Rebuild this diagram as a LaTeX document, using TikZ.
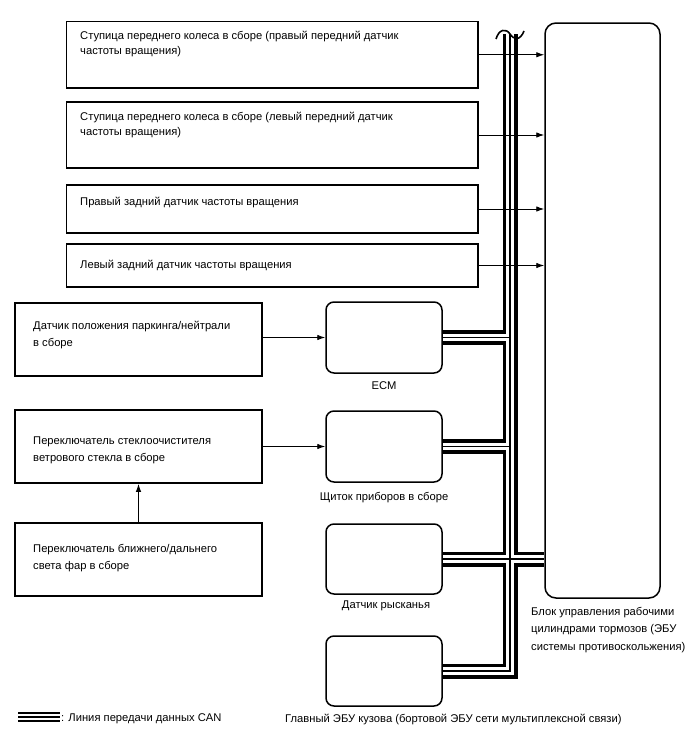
\documentclass[tikz,border=0pt]{standalone}
\usepackage{fontspec}
\setmainfont{Liberation Sans}
\usetikzlibrary{arrows.meta,backgrounds}
\begin{document}
\begin{tikzpicture}[x=1pt,y=-1pt,
  txt/.style={font=\fontsize{11.2}{15}\selectfont, inner sep=0pt, align=left},
  txtl/.style={font=\fontsize{11.2}{16.5}\selectfont, inner sep=0pt, align=left},
  txta/.style={font=\fontsize{11.2}{17.5}\selectfont, inner sep=0pt, align=left},
  sqbox/.style={draw, line width=1.8pt, inner sep=0pt},
  rbox/.style={draw, line width=1.5pt, rounded corners=8pt, inner sep=0pt},
  arr/.style={line width=0.9pt, -{Latex[length=8pt,width=5.5pt]}},
  canblack/.style={line width=15pt, line join=miter},
  canwhite/.style={white, line width=7.5pt, line join=miter},
  canthin/.style={line width=1.4pt, line join=miter}]
\useasboundingbox (0,0) rectangle (688,755);

% left/top boxes
\node[sqbox, minimum width=411.5pt, minimum height=66.5pt] (b1) at (272.25,54.75) {};
\node[sqbox, minimum width=411.5pt, minimum height=66pt] (b2) at (272.25,135) {};
\node[sqbox, minimum width=411.5pt, minimum height=48pt] (b3) at (272.25,209) {};
\node[sqbox, minimum width=411.5pt, minimum height=43pt] (b4) at (272.25,265.5) {};
\node[sqbox, minimum width=247pt, minimum height=73pt] (park) at (138.5,339.5) {};
\node[sqbox, minimum width=247pt, minimum height=73pt] (wiper) at (138.5,446.5) {};
\node[sqbox, minimum width=247pt, minimum height=73pt] (head) at (138.5,559.5) {};

% rounded boxes
\node[rbox, minimum width=116pt, minimum height=71pt] (ecm) at (384,337.5) {};
\node[rbox, minimum width=116pt, minimum height=71pt] (meter) at (384,446.5) {};
\node[rbox, minimum width=116pt, minimum height=70pt] (yaw) at (384,559) {};
\node[rbox, minimum width=116pt, minimum height=70pt] (body) at (384,671) {};
\node[rbox, rounded corners=11pt, minimum width=115pt, minimum height=575pt] (abs) at (602.5,310.5) {};

% texts in boxes (anchor = baseline of last line)
\node[txt, anchor=base west] (t1) at (80,54) {Ступица переднего колеса в сборе (правый передний датчик\\частоты вращения)};
\node[txt, anchor=base west] (t2) at (80,135) {Ступица переднего колеса в сборе (левый передний датчик\\частоты вращения)};
\node[txt, anchor=base west] (t3) at (80,205) {Правый задний датчик частоты вращения};
\node[txt, anchor=base west] (t4) at (80,268) {Левый задний датчик частоты вращения};
\node[txtl, anchor=base west] (t5) at (33,346) {Датчик положения паркинга/нейтрали\\в сборе};
\node[txtl, anchor=base west] (t6) at (33,461) {Переключатель стеклоочистителя\\ветрового стекла в сборе};
\node[txtl, anchor=base west] (t7) at (33,569) {Переключатель ближнего/дальнего\\света фар в сборе};

% labels
\node[txt, anchor=base] (l1) at (384,389) {ECM};
\node[txt, anchor=base] (l2) at (384,500) {Щиток приборов в сборе};
\node[txt, anchor=base] (l3) at (386,608) {Датчик рысканья};
\node[txt, anchor=base west] (l4) at (285,722) {Главный ЭБУ кузова (бортовой ЭБУ сети мультиплексной связи)};
\node[txta, anchor=base west] (l5) at (531,650) {Блок управления рабочими\\цилиндрами тормозов (ЭБУ\\системы противоскольжения)};

% CAN bus
\coordinate (bustop) at (510,34);
\coordinate (buscorner) at (510,671);
\begin{scope}[on background layer]
\foreach \st in {canblack,canwhite,canthin}{
  \draw[\st] (bustop) -- (buscorner) -- (body.east);
  \draw[\st] (ecm.east) -- (ecm.east -| bustop);
  \draw[\st] (meter.east) -- (meter.east -| bustop);
  \draw[\st] (yaw.east) -- (yaw.east -| abs.west);
}
\end{scope}
% wavy break at top
\draw[line width=1.6pt] (496,39) .. controls (499,29) and (506,28) .. (510,34) .. controls (514,40) and (520,41) .. (524,31);

% legend
\coordinate (lg1) at (18,717);
\coordinate (lg2) at (60,717);
\draw[line width=10pt] (lg1) -- (lg2);
\draw[white, line width=6pt] (lg1) -- (lg2);
\draw[line width=2pt] (lg1) -- (lg2);
\node[txt, anchor=base west] (lgt) at (61,721) {: Линия передачи данных CAN};

% arrows
\draw[arr] (b1.east) -- (b1.east -| abs.west);
\draw[arr] (b2.east) -- (b2.east -| abs.west);
\draw[arr] (b3.east) -- (b3.east -| abs.west);
\draw[arr] (b4.east) -- (b4.east -| abs.west);
\draw[arr] (park.east |- ecm.west) -- (ecm.west);
\draw[arr] (wiper.east) -- (wiper.east -| meter.west);
\draw[arr] (head.north) -- (wiper.south);
\end{tikzpicture}
\end{document}
